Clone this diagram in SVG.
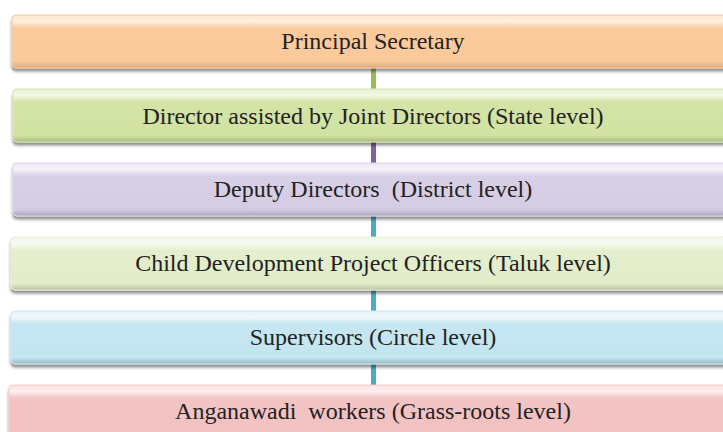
<svg xmlns="http://www.w3.org/2000/svg" width="723" height="432" viewBox="0 0 723 432">
<defs>
<filter id="sh" x="-5%" y="-20%" width="110%" height="150%">
<feGaussianBlur in="SourceAlpha" stdDeviation="1.5"/>
<feOffset dx="0" dy="3" result="b"/>
<feComponentTransfer><feFuncA type="linear" slope="0.45"/></feComponentTransfer>
<feMerge><feMergeNode/><feMergeNode in="SourceGraphic"/></feMerge>
</filter>
<linearGradient id="g1" x1="0" y1="0" x2="0" y2="1">
<stop offset="0" stop-color="#fde6cf"/><stop offset="0.12" stop-color="#fff0dc"/><stop offset="0.25" stop-color="#fbcb9d"/><stop offset="0.88" stop-color="#fbc99a"/><stop offset="1" stop-color="#d9a77c"/>
</linearGradient>
<linearGradient id="g2" x1="0" y1="0" x2="0" y2="1">
<stop offset="0" stop-color="#e9f2d2"/><stop offset="0.12" stop-color="#f3f8e4"/><stop offset="0.25" stop-color="#d4e4a7"/><stop offset="0.88" stop-color="#d1e2a2"/><stop offset="1" stop-color="#a9bb82"/>
</linearGradient>
<linearGradient id="g3" x1="0" y1="0" x2="0" y2="1">
<stop offset="0" stop-color="#ece7f2"/><stop offset="0.12" stop-color="#f6f3f9"/><stop offset="0.25" stop-color="#d8d0e6"/><stop offset="0.88" stop-color="#d5cce3"/><stop offset="1" stop-color="#ada5bb"/>
</linearGradient>
<linearGradient id="g4" x1="0" y1="0" x2="0" y2="1">
<stop offset="0" stop-color="#f2f7e6"/><stop offset="0.12" stop-color="#f8fbf1"/><stop offset="0.25" stop-color="#e5efce"/><stop offset="0.88" stop-color="#e2ecc9"/><stop offset="1" stop-color="#b9c3a3"/>
</linearGradient>
<linearGradient id="g5" x1="0" y1="0" x2="0" y2="1">
<stop offset="0" stop-color="#e2f3f8"/><stop offset="0.12" stop-color="#eff9fb"/><stop offset="0.25" stop-color="#c6e7f1"/><stop offset="0.88" stop-color="#c3e5ef"/><stop offset="1" stop-color="#98b8c1"/>
</linearGradient>
<linearGradient id="g6" x1="0" y1="0" x2="0" y2="1">
<stop offset="0" stop-color="#f9e1e1"/><stop offset="0.12" stop-color="#fcefef"/><stop offset="0.25" stop-color="#f3c4c4"/><stop offset="0.88" stop-color="#f2c1c1"/><stop offset="1" stop-color="#c99999"/>
</linearGradient>
</defs>
<style>
.box{filter:url(#sh);stroke-width:1}
.t{font-family:"Liberation Serif","Times New Roman",serif;font-size:24px;fill:#222;text-anchor:middle;white-space:pre}
</style>
<g id="connectors">
<rect x="371" y="68" width="5" height="22" fill="#9bbb59"/>
<rect x="371" y="142" width="5" height="21" fill="#8064a2"/>
<rect x="371" y="216" width="5" height="21" fill="#4bacc6"/>
<rect x="371" y="290" width="5" height="21" fill="#4bacc6"/>
<rect x="371" y="364" width="5" height="21" fill="#4bacc6"/>
</g>
<g id="n1"><rect class="box" x="12" y="15" width="730" height="53" rx="4" fill="url(#g1)" stroke="#f4c9a4"/><text class="t" x="373" y="49">Principal Secretary</text></g>
<g id="n2"><rect class="box" x="13" y="89" width="730" height="53" rx="4" fill="url(#g2)" stroke="#d6e5b4"/><text class="t" x="373" y="124">Director assisted by Joint Directors (State level)</text></g>
<g id="n3"><rect class="box" x="13" y="163" width="730" height="53" rx="4" fill="url(#g3)" stroke="#dcd5e8"/><text class="t" x="373" y="197" xml:space="preserve">Deputy Directors  (District level)</text></g>
<g id="n4"><rect class="box" x="11" y="237" width="730" height="53" rx="4" fill="url(#g4)" stroke="#e6efd4"/><text class="t" x="373" y="271">Child Development Project Officers (Taluk level)</text></g>
<g id="n5"><rect class="box" x="11" y="311" width="730" height="53" rx="4" fill="url(#g5)" stroke="#cde9f2"/><text class="t" x="373" y="345">Supervisors (Circle level)</text></g>
<g id="n6"><rect class="box" x="9" y="385" width="730" height="53" rx="4" fill="url(#g6)" stroke="#f3cbcb"/><text class="t" x="373" y="419" xml:space="preserve">Anganawadi  workers (Grass-roots level)</text></g>
</svg>
